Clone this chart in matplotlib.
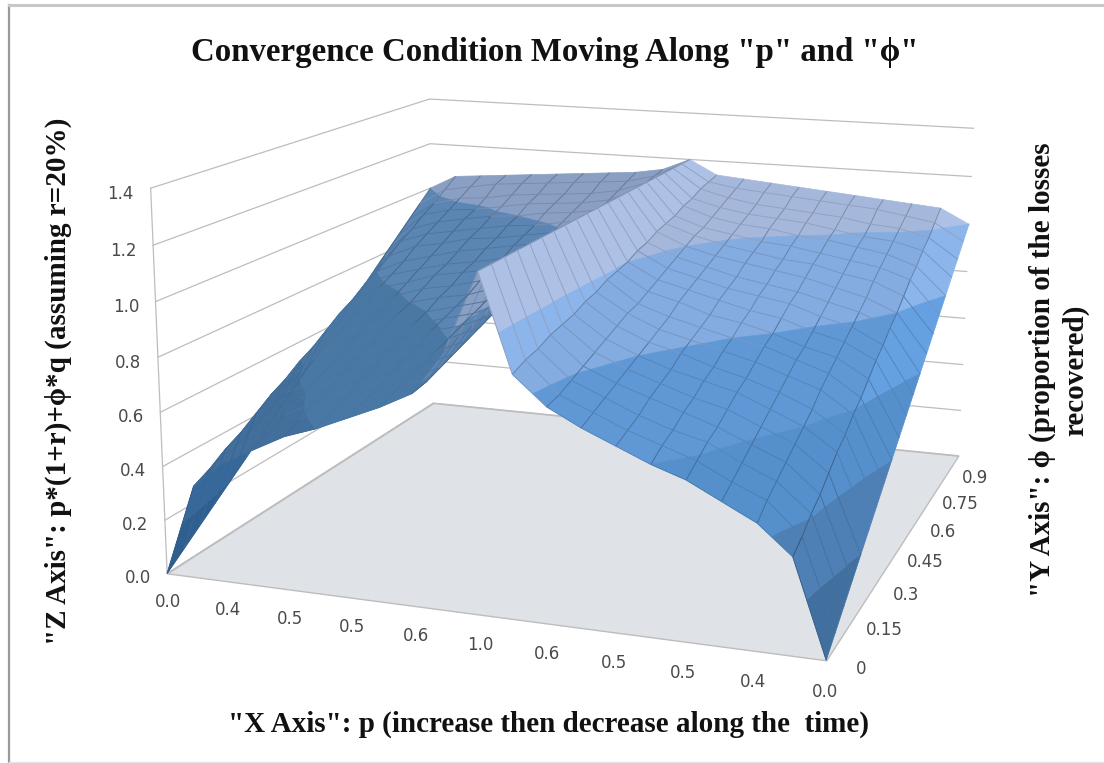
import numpy as np
import matplotlib
matplotlib.use("Agg")
import matplotlib.pyplot as plt
from matplotlib.colors import to_rgb
from matplotlib.lines import Line2D
from mpl_toolkits.mplot3d import proj3d
from mpl_toolkits.mplot3d.art3d import Line3DCollection, Poly3DCollection

x_labels = ["0.0", "", "0.4", "", "0.5", "", "0.5", "", "0.6", "", "1.0", "", "0.6", "", "0.5", "", "0.5", "", "0.4", "", "0.0"]
y_labels = ["0", "", "", "0.15", "", "", "0.3", "", "", "0.45", "", "", "0.6", "", "", "0.75", "", "", "0.9", "", ""]
z_ticks = [0.0, 0.2, 0.4, 0.6, 0.8, 1.0, 1.2, 1.4]

# height of the surface, one row per phi step, columns up to the ridge
z_left = [
    [0.00, 0.34, 0.44, 0.50, 0.56, 0.60, 0.65, 0.70, 0.76, 0.92, 1.20],
    [0.05, 0.37, 0.48, 0.53, 0.59, 0.63, 0.67, 0.72, 0.77, 0.94, 1.20],
    [0.10, 0.41, 0.51, 0.56, 0.62, 0.65, 0.69, 0.74, 0.79, 0.95, 1.20],
    [0.15, 0.44, 0.54, 0.59, 0.64, 0.68, 0.72, 0.76, 0.81, 0.96, 1.20],
    [0.20, 0.48, 0.57, 0.62, 0.67, 0.70, 0.74, 0.78, 0.83, 0.97, 1.20],
    [0.25, 0.52, 0.60, 0.65, 0.70, 0.73, 0.76, 0.80, 0.85, 0.98, 1.20],
    [0.30, 0.55, 0.63, 0.68, 0.72, 0.75, 0.79, 0.82, 0.87, 0.99, 1.20],
    [0.35, 0.59, 0.67, 0.71, 0.75, 0.78, 0.81, 0.84, 0.89, 1.00, 1.20],
    [0.40, 0.62, 0.70, 0.74, 0.78, 0.80, 0.83, 0.86, 0.90, 1.02, 1.20],
    [0.45, 0.66, 0.73, 0.76, 0.80, 0.83, 0.85, 0.89, 0.92, 1.03, 1.20],
    [0.50, 0.70, 0.76, 0.79, 0.83, 0.85, 0.88, 0.91, 0.94, 1.04, 1.20],
    [0.55, 0.73, 0.79, 0.82, 0.86, 0.88, 0.90, 0.93, 0.96, 1.05, 1.20],
    [0.60, 0.77, 0.82, 0.85, 0.88, 0.90, 0.92, 0.95, 0.98, 1.06, 1.20],
    [0.65, 0.80, 0.85, 0.88, 0.91, 0.93, 0.95, 0.97, 1.00, 1.07, 1.20],
    [0.70, 0.84, 0.89, 0.91, 0.94, 0.95, 0.97, 0.99, 1.02, 1.09, 1.20],
    [0.75, 0.88, 0.92, 0.94, 0.96, 0.98, 0.99, 1.01, 1.03, 1.10, 1.20],
    [0.80, 0.91, 0.95, 0.97, 0.99, 1.00, 1.02, 1.03, 1.05, 1.11, 1.20],
    [0.85, 0.95, 0.98, 0.99, 1.01, 1.03, 1.04, 1.05, 1.07, 1.12, 1.20],
    [0.90, 0.98, 1.01, 1.02, 1.04, 1.05, 1.06, 1.07, 1.09, 1.13, 1.20],
    [0.95, 1.02, 1.04, 1.06, 1.07, 1.08, 1.09, 1.10, 1.11, 1.14, 1.20],
    [1.00, 1.06, 1.07, 1.08, 1.09, 1.10, 1.11, 1.12, 1.13, 1.15, 1.20],
]
# the column just after the ridge, the rest falls back like the left side
z_after_ridge = [0.86, 0.88, 0.89, 0.91, 0.92, 0.93, 0.95, 0.96, 0.98, 0.99, 1.00,
                 1.02, 1.03, 1.05, 1.06, 1.07, 1.09, 1.10, 1.12, 1.13, 1.14]

band_edges = [0.0, 0.2, 0.4, 0.6, 0.8, 1.0, 1.21]
left_colors = ["#2f5f8f", "#36689a", "#436f9c", "#4a78a5", "#5b86b4", "#8a9fc4"]
right_colors = ["#41709f", "#4f80b5", "#5590cc", "#6098d6", "#85ace0", "#a5b8dc"]

W, H = 1104, 763
GRID = "#bdbdbd"
TICK = "#4a4a4a"
SERIF = ["Liberation Serif", "DejaVu Serif"]


def clip_band(poly, lo, hi):
    # cut a polygon to the part between two heights
    for level, keep_above in ((lo, True), (hi, False)):
        out = []
        for a, b in zip(poly, poly[1:] + poly[:1]):
            ina = a[2] >= level if keep_above else a[2] <= level
            inb = b[2] >= level if keep_above else b[2] <= level
            if ina:
                out.append(a)
            if ina != inb:
                t = (level - a[2]) / (b[2] - a[2])
                out.append(tuple(a[i] + t * (b[i] - a[i]) for i in range(3)))
        poly = out
        if not poly:
            return []
    return poly


def draw_half(z, first, last, palette, zorder):
    # one side of the ridge: coloured bands first, mesh lines over them
    verts, colors = [], []
    lines, line_colors = [], []
    for j in range(z.shape[0] - 1):
        for i in range(first, last):
            quad = [(i, j, z[j, i]), (i + 1, j, z[j, i + 1]), (i + 1, j + 1, z[j + 1, i + 1]), (i, j + 1, z[j + 1, i])]
            for n in range(len(band_edges) - 1):
                part = clip_band(quad, band_edges[n], band_edges[n + 1])
                if len(part) >= 3:
                    boost = 1.05 if i == 10 or (i == 19 and n >= 3) else 1.0
                    verts.append(part)
                    colors.append(np.clip(np.array(to_rgb(palette[n])) * boost, 0, 1))
            mid = np.mean([p[2] for p in quad])
            n = np.searchsorted(band_edges, mid) - 1
            base = np.array(to_rgb(palette[n]))
            quiet = i < 10 and n < 4
            lines.append([quad[0], quad[3]])
            line_colors.append(base * (0.96 if quiet else 0.76))
            lines.append([quad[0], quad[1]])
            line_colors.append(base * (0.98 if quiet else 0.88))
    ax.add_collection3d(Poly3DCollection(verts, facecolors=colors, edgecolors=colors, linewidths=0.5, zsort="average", zorder=zorder))
    ax.add_collection3d(Line3DCollection(lines, colors=line_colors, linewidths=0.7, zorder=zorder + 1))


left = np.array(z_left)
z_table = np.column_stack([left, z_after_ridge, left[:, 8::-1]])

fig = plt.figure(figsize=(W / 100, H / 100), dpi=100)
side = 935.0
ax = fig.add_axes([116.9 / W, -53.2 / H, side / W, side / H], projection="3d")
ax.set_xlim(0, 20, view_margin=0)
ax.set_ylim(0, 20, view_margin=0)
ax.set_zlim(0, 1.4, view_margin=0)
ax.view_init(elev=13.827, azim=-71.069, roll=-0.337)
ax.set_proj_type("persp", focal_length=0.44)
ax.set_box_aspect((1.727, 1.733, 1))
ax.set_axis_off()
ax.computed_zorder = False
ax.patch.set_alpha(0)


def tick_text(x, y, z, label, **kw):
    px, py, _ = proj3d.proj_transform(x, y, z, ax.get_proj())
    ax.text2D(px, py, label, transform=ax.transData, va="center", fontsize=12, color=TICK, clip_on=False, **kw)


# floor
floor = Poly3DCollection([[(0, 0, 0), (20, 0, 0), (20, 20, 0), (0, 20, 0)]], facecolors="#dfe2e7", edgecolors=GRID, linewidths=1, zorder=1)
ax.add_collection3d(floor)

# walls
for zt in z_ticks:
    ax.plot([0, 0, 20], [0, 20, 20], [zt, zt, zt], color=GRID, lw=0.9, zorder=2)
    tick_text(-0.55, 0, zt - 0.025, f"{zt:.1f}", ha="right")
ax.plot([0, 0], [0, 0], [0, 1.4], color=GRID, lw=0.9, zorder=2)

draw_half(z_table, 0, 10, left_colors, 3)
draw_half(z_table, 10, 20, right_colors, 5)

for i, lab in enumerate(x_labels):
    if lab:
        tick_text(i, 0, -0.11, lab, ha="center")
for j, lab in enumerate(y_labels):
    if lab:
        tick_text(20.95, j, -0.015, lab, ha="center")

fig.text(555 / W, 1 - 52 / H, 'Convergence Condition Moving Along "p" and "\u03d5"', ha="center", va="center",
         fontsize=23.7, fontweight="bold", family=SERIF, color="#111111")
fig.text(549 / W, 1 - 724 / H, '"X Axis": p (increase then decrease along the  time)', ha="center", va="center",
         fontsize=21, fontweight="bold", family=SERIF, color="#111111")
fig.text(58 / W, 1 - 381 / H, '"Z Axis": p*(1+r)+\u03d5*q (assuming r=20%)', rotation=90, ha="center", va="center",
         fontsize=21, fontweight="bold", family=SERIF, color="#111111")
fig.text(1059 / W, 1 - 370 / H, '"Y Axis": \u03d5 (proportion of the losses\nrecovered)', rotation=90, ha="center", va="center",
         multialignment="center", fontsize=21, fontweight="bold", family=SERIF, color="#111111", linespacing=1.25)

# chart frame, only three sides show
fig.add_artist(Line2D([9 / W, 9 / W], [0, 1 - 5 / H], color="#9a9a9a", lw=1.6, transform=fig.transFigure))
fig.add_artist(Line2D([9 / W, 1], [1 - 5 / H, 1 - 5 / H], color="#c8c8c8", lw=2.2, transform=fig.transFigure))
fig.add_artist(Line2D([9 / W, 1], [1 / H, 1 / H], color="#e4e4e4", lw=1, transform=fig.transFigure))

fig.savefig("out.png", dpi=100)
